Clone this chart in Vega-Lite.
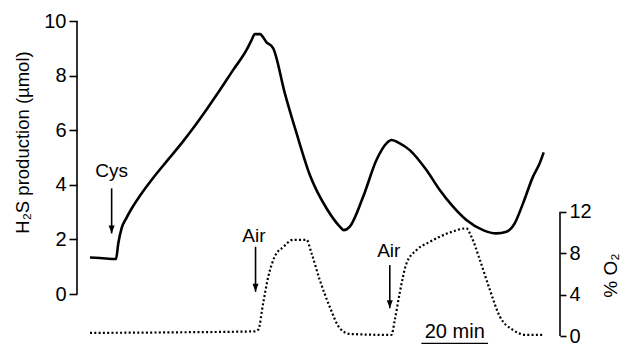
{
  "$schema": "https://vega.github.io/schema/vega-lite/v6.json",
  "width": 483,
  "height": 315,
  "autosize": {"type": "none"},
  "padding": {"left": 77, "top": 21, "right": 65, "bottom": 9},
  "config": {
    "view": {"stroke": null},
    "font": "Liberation Sans",
    "axis": {"labelColor": "black", "tickColor": "black", "titleColor": "black", "labelFont": "Liberation Sans", "titleFont": "Liberation Sans", "titleFontWeight": "normal", "grid": false}
  },
  "datasets": {
    "h2s": [
      {"t": 3.9, "v": 1.34}, {"t": 6.9, "v": 1.32}, {"t": 11.7, "v": 1.28}, {"t": 12.4, "v": 1.86},
      {"t": 13.4, "v": 2.41}, {"t": 14.9, "v": 2.8}, {"t": 16.5, "v": 3.15}, {"t": 18.9, "v": 3.6},
      {"t": 22.9, "v": 4.26}, {"t": 26.9, "v": 4.86}, {"t": 31.9, "v": 5.6}, {"t": 34.9, "v": 6.08},
      {"t": 38.9, "v": 6.76}, {"t": 42.9, "v": 7.47}, {"t": 46.9, "v": 8.21}, {"t": 50.9, "v": 8.94},
      {"t": 52.4, "v": 9.3}, {"t": 53.4, "v": 9.52}, {"t": 54.9, "v": 9.52}, {"t": 56.9, "v": 9.22},
      {"t": 58.9, "v": 9.0}, {"t": 62.4, "v": 7.35}, {"t": 65.9, "v": 5.89},
      {"t": 69.9, "v": 4.36}, {"t": 74.9, "v": 3.14}, {"t": 78.9, "v": 2.47}, {"t": 80.1, "v": 2.34},
      {"t": 81.9, "v": 2.47}, {"t": 85.9, "v": 3.56}, {"t": 89.9, "v": 4.91}, {"t": 92.9, "v": 5.52},
      {"t": 94.4, "v": 5.64}, {"t": 96.9, "v": 5.52}, {"t": 99.9, "v": 5.27}, {"t": 104.9, "v": 4.54},
      {"t": 108.9, "v": 3.81}, {"t": 112.9, "v": 3.2}, {"t": 116.9, "v": 2.71}, {"t": 121.9, "v": 2.34},
      {"t": 125.9, "v": 2.22}, {"t": 128.9, "v": 2.28}, {"t": 131.4, "v": 2.59}, {"t": 133.9, "v": 3.32},
      {"t": 136.9, "v": 4.3}, {"t": 138.9, "v": 4.79}, {"t": 140.1, "v": 5.19}
    ],
    "o2": [
      {"t": 3.9, "o": 0.3}, {"t": 27.9, "o": 0.35}, {"t": 53.4, "o": 0.45}, {"t": 54.4, "o": 0.6},
      {"t": 55.9, "o": 3.2}, {"t": 57.4, "o": 5.7}, {"t": 59.4, "o": 7.7}, {"t": 61.9, "o": 8.6},
      {"t": 64.9, "o": 9.3}, {"t": 68.9, "o": 9.3}, {"t": 70.4, "o": 8.0}, {"t": 72.9, "o": 5.4},
      {"t": 75.9, "o": 2.8}, {"t": 78.9, "o": 0.75}, {"t": 81.9, "o": 0.2}, {"t": 94.4, "o": 0.1},
      {"t": 95.4, "o": 1.55}, {"t": 96.9, "o": 4.2}, {"t": 98.9, "o": 7.0}, {"t": 101.9, "o": 8.3},
      {"t": 105.9, "o": 9.1}, {"t": 111.9, "o": 10.0}, {"t": 116.9, "o": 10.4}, {"t": 118.4, "o": 9.6},
      {"t": 120.9, "o": 7.4}, {"t": 123.9, "o": 4.5}, {"t": 126.9, "o": 1.9}, {"t": 130.8, "o": 0.6},
      {"t": 134.9, "o": 0.1}, {"t": 140.1, "o": 0.1}
    ],
    "ann": [
      {"label": "Cys", "tx": 10.4, "ty": 4.3, "ax": 10.4, "a1": 3.87, "a2": 2.22},
      {"label": "Air", "tx": 53.1, "ty": 1.92, "ax": 53.6, "a1": 1.73, "a2": 0.08},
      {"label": "Air", "tx": 93.6, "ty": 1.37, "ax": 93.9, "a1": 1.06, "a2": -0.52}
    ],
    "laxis": [{"x": 0, "y1": 0, "y2": 10}],
    "raxis": [{"x": 145, "y1": 0, "y2": 12}],
    "bar": [{"x1": 103.4, "x2": 123.4, "tx": 113.4, "y": -0.71, "ty": -0.22, "label": "20 min"}]
  },
  "layer": [
    {
      "data": {"name": "h2s"},
      "mark": {"type": "line", "color": "black", "strokeWidth": 2.6, "interpolate": "monotone"},
      "encoding": {
        "x": {"field": "t", "type": "quantitative", "scale": {"domain": [0, 145], "nice": false, "zero": false}, "axis": null},
        "y": {"field": "v", "type": "quantitative", "scale": {"domain": [-1.538, 10], "nice": false, "zero": false},
              "axis": {"orient": "left", "values": [0, 2, 4, 6, 8, 10], "domain": false, "tickSize": 8, "tickWidth": 1.6, "labelPadding": 3, "labelFontSize": 20,
                       "title": "H₂S production (µmol)", "titleFontSize": 18.5, "titleAngle": -90, "titleX": -49, "titleY": 121, "titleAlign": "center", "titleBaseline": "alphabetic"}}
      }
    },
    {
      "data": {"name": "laxis"},
      "mark": {"type": "rule", "color": "black", "strokeWidth": 1.6},
      "encoding": {
        "x": {"field": "x", "type": "quantitative", "axis": null},
        "y": {"field": "y1", "type": "quantitative", "scale": {"domain": [-1.538, 10], "nice": false, "zero": false}, "axis": null},
        "y2": {"field": "y2"}
      }
    },
    {
      "data": {"name": "ann"},
      "mark": {"type": "text", "fontSize": 19, "color": "black", "baseline": "alphabetic", "align": "center"},
      "encoding": {
        "x": {"field": "tx", "type": "quantitative", "axis": null},
        "y": {"field": "ty", "type": "quantitative", "scale": {"domain": [-1.538, 10], "nice": false, "zero": false}, "axis": null},
        "text": {"field": "label"}
      }
    },
    {
      "data": {"name": "ann"},
      "mark": {"type": "rule", "color": "black", "strokeWidth": 1.6},
      "encoding": {
        "x": {"field": "ax", "type": "quantitative", "axis": null},
        "y": {"field": "a1", "type": "quantitative", "scale": {"domain": [-1.538, 10], "nice": false, "zero": false}, "axis": null},
        "y2": {"field": "a2"}
      }
    },
    {
      "data": {"name": "ann"},
      "mark": {"type": "point", "shape": "M-0.75,-1L0.75,-1L0,1Z", "size": 64, "filled": true, "color": "black", "opacity": 1, "yOffset": -4},
      "encoding": {
        "x": {"field": "ax", "type": "quantitative", "axis": null},
        "y": {"field": "a2", "type": "quantitative", "scale": {"domain": [-1.538, 10], "nice": false, "zero": false}, "axis": null}
      }
    },
    {
      "data": {"name": "o2"},
      "mark": {"type": "line", "color": "black", "strokeWidth": 2.2, "strokeDash": [2, 2.3], "interpolate": "monotone"},
      "encoding": {
        "x": {"field": "t", "type": "quantitative", "axis": null},
        "y": {"field": "o", "type": "quantitative", "scale": {"domain": [0, 30.45], "nice": false, "zero": false},
              "axis": {"orient": "right", "values": [0, 4, 8, 12], "domain": false, "tickSize": 6, "tickWidth": 1.6, "labelPadding": 3, "labelFontSize": 20,
                       "title": "% O₂", "titleFontSize": 19, "titleAngle": -90, "titleX": 56, "titleY": 254, "titleAlign": "center", "titleBaseline": "alphabetic"}}
      }
    },
    {
      "data": {"name": "raxis"},
      "mark": {"type": "rule", "color": "black", "strokeWidth": 1.6},
      "encoding": {
        "x": {"field": "x", "type": "quantitative", "axis": null},
        "y": {"field": "y1", "type": "quantitative", "scale": {"domain": [0, 30.45], "nice": false, "zero": false}, "axis": null},
        "y2": {"field": "y2"}
      }
    },
    {
      "data": {"name": "bar"},
      "mark": {"type": "rule", "color": "black", "strokeWidth": 1.2},
      "encoding": {
        "x": {"field": "x1", "type": "quantitative", "axis": null},
        "x2": {"field": "x2"},
        "y": {"field": "y", "type": "quantitative", "scale": {"domain": [0, 30.45], "nice": false, "zero": false}, "axis": null}
      }
    },
    {
      "data": {"name": "bar"},
      "mark": {"type": "text", "fontSize": 20, "color": "black", "baseline": "alphabetic", "align": "center"},
      "encoding": {
        "x": {"field": "tx", "type": "quantitative", "axis": null},
        "y": {"field": "ty", "type": "quantitative", "scale": {"domain": [0, 30.45], "nice": false, "zero": false}, "axis": null},
        "text": {"field": "label"}
      }
    }
  ],
  "resolve": {"scale": {"y": "independent"}, "axis": {"y": "independent"}}
}
